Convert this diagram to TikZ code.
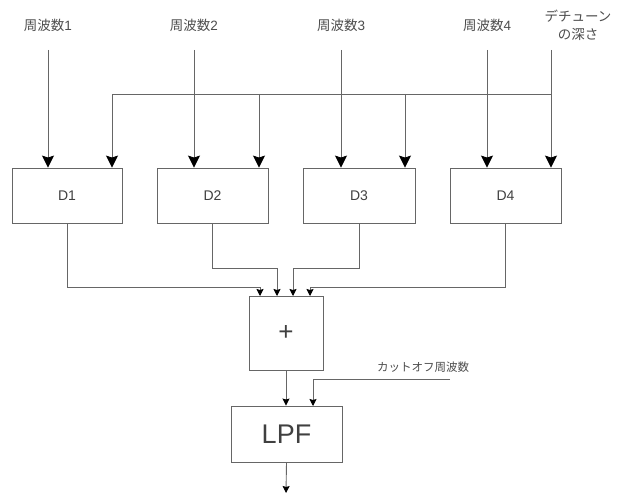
\documentclass[tikz,border=0pt]{standalone}
\usepackage{fontspec}
\setmainfont{Liberation Sans}
\newfontfamily\cjk{Noto Sans CJK JP}
\usetikzlibrary{arrows.meta}
\begin{document}
\begin{tikzpicture}[x=1pt,y=-1pt,
  line/.style={draw=black!60,line width=0.9pt},
  bigarr/.style={line,-{Stealth[length=12pt,width=12pt,inset=2pt,color=black]}},
  smallarr/.style={line,-{Stealth[length=7pt,width=7pt,inset=1pt,color=black]}},
  blk/.style={draw=black!60,line width=0.9pt,fill=white,inner sep=0pt,text=black!75},
  lbl/.style={text=black!70,font=\fontsize{13.5}{15}\selectfont,inner sep=0pt}]
\useasboundingbox (0,0) rectangle (626,497);
% labels
\node[lbl] (f1) at (48,25) {{\cjk 周波数}1};
\node[lbl] (f2) at (194,25) {{\cjk 周波数}2};
\node[lbl] (f3) at (341,25) {{\cjk 周波数}3};
\node[lbl] (f4) at (487,25) {{\cjk 周波数}4};
\node[lbl,align=center,font=\cjk\fontsize{13.5}{18}\selectfont] (dt) at (578,25) {デチューン\\の深さ};
% blocks
\node[blk,minimum width=110pt,minimum height=55pt,font=\fontsize{14}{15}\selectfont] (D1) at (67,195.5) {D1};
\node[blk,minimum width=111pt,minimum height=55pt,font=\fontsize{14}{15}\selectfont] (D2) at (212.5,195.5) {D2};
\node[blk,minimum width=112pt,minimum height=55pt,font=\fontsize{14}{15}\selectfont] (D3) at (359,195.5) {D3};
\node[blk,minimum width=111pt,minimum height=55pt,font=\fontsize{14}{15}\selectfont] (D4) at (505.5,195.5) {D4};
\node[blk,minimum width=74pt,minimum height=74pt,font=\fontsize{26}{28}\selectfont] (P) at (286,333) {+};
\node[blk,minimum width=111pt,minimum height=56pt,font=\fontsize{27}{28}\selectfont] (L) at (286.5,434) {LPF};
\node[lbl,font=\cjk\fontsize{11.5}{13}\selectfont] (co) at (423,367) {カットオフ周波数};
% coordinates
\coordinate (s1) at (48,50);
\coordinate (s2) at (194,50);
\coordinate (s3) at (341,50);
\coordinate (s4) at (487,50);
\coordinate (s5) at (551,50);
\coordinate (j5) at (551,94);
\coordinate (b1) at (112,94);
\coordinate (b2) at (259,94);
\coordinate (b3) at (405,94);
\coordinate (p1) at (260,296);
\coordinate (p2) at (277,296);
\coordinate (p3) at (293,296);
\coordinate (p4) at (310,296);
\coordinate (k1) at (260,287);
\coordinate (k2) at (277,268);
\coordinate (k3) at (293,268);
\coordinate (k4) at (310,287);
\coordinate (cs) at (450,379);
\coordinate (ci) at (313,406);
\coordinate (out) at (286,493);
% top arrows
\draw[bigarr] (s1) -- (s1 |- D1.north);
\draw[bigarr] (s2) -- (s2 |- D2.north);
\draw[bigarr] (s3) -- (s3 |- D3.north);
\draw[bigarr] (s4) -- (s4 |- D4.north);
\draw[bigarr] (s5) -- (s5 |- D4.north);
\draw[bigarr] (j5) -- (b1) -- (b1 |- D1.north);
\draw[bigarr] (b2) -- (b2 |- D2.north);
\draw[bigarr] (b3) -- (b3 |- D3.north);
% to adder
\draw[smallarr] (D1.south) |- (k1) -- (p1);
\draw[smallarr] (D2.south) |- (k2) -- (p2);
\draw[smallarr] (D3.south) |- (k3) -- (p3);
\draw[smallarr] (D4.south) |- (k4) -- (p4);
% adder to LPF
\draw[smallarr] (P.south) -- (P.south |- L.north);
\draw[smallarr] (cs) -| (ci);
\draw[smallarr] (L.south) -- (out);
\end{tikzpicture}
\end{document}
